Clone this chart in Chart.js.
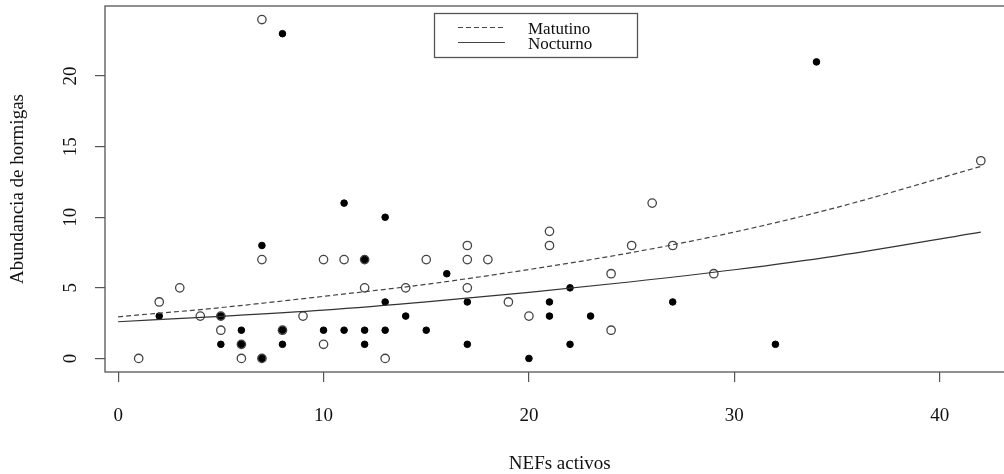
<!DOCTYPE html>
<html lang="es">
<head>
    <meta charset="UTF-8">
    <title>Abundancia de hormigas vs NEFs activos</title>
    <style>
        html, body { margin: 0; padding: 0; background: #fff; overflow: hidden; width: 1004px; height: 474px; }
        #chart { display: block; }
    </style>
</head>
<body>

<canvas id="chart" width="1020" height="474" style="width:1020px;height:474px"></canvas>

<script src="https://cdn.jsdelivr.net/npm/chart.js"></script>
<script>
    // Datos
    // Matutino (circulos abiertos)
    const matX = [1, 2, 3, 4, 5, 5, 6, 6, 7, 7, 7, 8, 9, 10, 10, 11, 12, 12, 13, 14, 15, 17, 17, 17, 18, 19, 20, 21, 21, 24, 24, 25, 26, 27, 29, 42];
    const matY = [0, 4, 5, 3, 2, 3, 1, 0, 7, 24, 0, 2, 3, 7, 1, 7, 5, 7, 0, 5, 7, 8, 7, 5, 7, 4, 3, 9, 8, 6, 2, 8, 11, 8, 6, 14];

    // Nocturno (puntos rellenos)
    const nocX = [2, 5, 5, 6, 6, 7, 7, 8, 8, 8, 10, 11, 11, 12, 12, 12, 13, 13, 13, 14, 15, 16, 17, 17, 20, 21, 21, 22, 22, 23, 27, 32, 34];
    const nocY = [3, 3, 1, 2, 1, 8, 0, 23, 2, 1, 2, 11, 2, 7, 2, 1, 10, 4, 2, 3, 2, 6, 4, 1, 0, 4, 3, 5, 1, 3, 4, 1, 21];

    // Curvas ajustadas (valores leidos a lo largo de las lineas)
    const fitX = [0, 5, 10, 15, 20, 25, 30, 35, 42];
    const matFit = [2.95, 3.6, 4.4, 5.25, 6.3, 7.5, 8.95, 10.7, 13.6];
    const nocFit = [2.6, 2.98, 3.42, 4.0, 4.68, 5.43, 6.28, 7.27, 8.95];

    const seriesNames = ['Matutino', 'Nocturno'];
    const xTicks = [0, 10, 20, 30, 40];
    const yTicks = [0, 5, 10, 15, 20];

    const toPoints = (xs, ys) => xs.map((x, i) => ({ x: x, y: ys[i] }));
    const serif = "'Liberation Serif', 'DejaVu Serif', serif";
    const axisColor = '#555';

    // caja alrededor del area del grafico + leyenda con borde
    const boxAndLegend = {
        id: 'boxAndLegend',
        afterDraw(chart) {
            const ctx = chart.ctx;
            const a = chart.chartArea;
            ctx.save();
            ctx.setLineDash([]);
            ctx.strokeStyle = axisColor;
            ctx.lineWidth = 1.3;
            ctx.strokeRect(a.left, a.top, a.right - a.left, a.bottom - a.top);

            // leyenda
            ctx.strokeRect(434.5, 13.5, 203, 44);
            ctx.strokeStyle = '#444';
            ctx.lineWidth = 1.1;
            // linea discontinua hecha a mano
            ctx.beginPath();
            for (let x = 458; x < 505; x += 8) {
                ctx.moveTo(x, 27.5);
                ctx.lineTo(Math.min(x + 5, 505), 27.5);
            }
            ctx.stroke();
            ctx.beginPath(); ctx.moveTo(458, 42.5); ctx.lineTo(505, 42.5); ctx.stroke();
            ctx.fillStyle = '#111';
            ctx.font = "17px " + serif;
            ctx.textBaseline = 'alphabetic';
            ctx.fillText(seriesNames[0], 528, 34);
            ctx.fillText(seriesNames[1], 528, 49);
            ctx.restore();
        }
    };

    new Chart(document.getElementById('chart').getContext('2d'), {
        type: 'scatter',
        data: {
            datasets: [
                {
                    type: 'line',
                    label: seriesNames[0] + ' ajuste',
                    data: toPoints(fitX, matFit),
                    borderColor: '#444',
                    borderWidth: 1.2,
                    borderDash: [5, 3],
                    pointRadius: 0,
                    fill: false,
                    cubicInterpolationMode: 'monotone'
                },
                {
                    type: 'line',
                    label: seriesNames[1] + ' ajuste',
                    data: toPoints(fitX, nocFit),
                    borderColor: '#333',
                    borderWidth: 1.2,
                    pointRadius: 0,
                    fill: false,
                    cubicInterpolationMode: 'monotone'
                },
                {
                    label: seriesNames[1],
                    data: toPoints(nocX, nocY),
                    pointStyle: 'circle',
                    pointRadius: 3.3,
                    backgroundColor: '#000',
                    borderColor: '#000',
                    borderWidth: 1
                },
                {
                    label: seriesNames[0],
                    data: toPoints(matX, matY),
                    pointStyle: 'circle',
                    pointRadius: 4.2,
                    backgroundColor: 'rgba(255,255,255,0)',
                    borderColor: '#444',
                    borderWidth: 1.3
                }
            ]
        },
        options: {
            responsive: false,
            animation: false,
            layout: { padding: { top: 6, right: 5, left: 0, bottom: 0 } },
            plugins: {
                legend: { display: false },
                tooltip: { enabled: false }
            },
            scales: {
                x: {
                    type: 'linear',
                    min: -0.64,
                    max: 43.64,
                    afterBuildTicks: s => { s.ticks = xTicks.map(v => ({ value: v })); },
                    afterFit: s => { s.height = 102; s.paddingLeft = 0; s.paddingRight = 0; },
                    border: { display: false },
                    grid: { drawOnChartArea: false, drawTicks: true, tickLength: 10, color: axisColor, lineWidth: 1.2 },
                    ticks: {
                        color: '#111',
                        padding: 23,
                        maxRotation: 0,
                        font: { family: serif, size: 19 },
                        callback: v => String(v)
                    },
                    title: {
                        display: true,
                        text: 'NEFs activos',
                        color: '#111',
                        font: { family: serif, size: 19, lineHeight: 1.0 },
                        padding: { top: 0, bottom: 0 }
                    }
                },
                y: {
                    type: 'linear',
                    min: -0.96,
                    max: 24.96,
                    afterBuildTicks: s => { s.ticks = yTicks.map(v => ({ value: v })); },
                    afterFit: s => { s.width = 105; s.paddingTop = 0; s.paddingBottom = 0; },
                    border: { display: false },
                    grid: { drawOnChartArea: false, drawTicks: true, tickLength: 10, color: axisColor, lineWidth: 1.2 },
                    ticks: {
                        color: '#111',
                        padding: 14,
                        minRotation: 90,
                        maxRotation: 90,
                        crossAlign: 'center',
                        font: { family: serif, size: 19 },
                        callback: v => String(v)
                    },
                    title: {
                        display: true,
                        text: 'Abundancia de hormigas',
                        color: '#111',
                        font: { family: serif, size: 19 },
                        padding: { top: 7, bottom: 0 }
                    }
                }
            }
        },
        plugins: [boxAndLegend]
    });
</script>
</body>
</html>
